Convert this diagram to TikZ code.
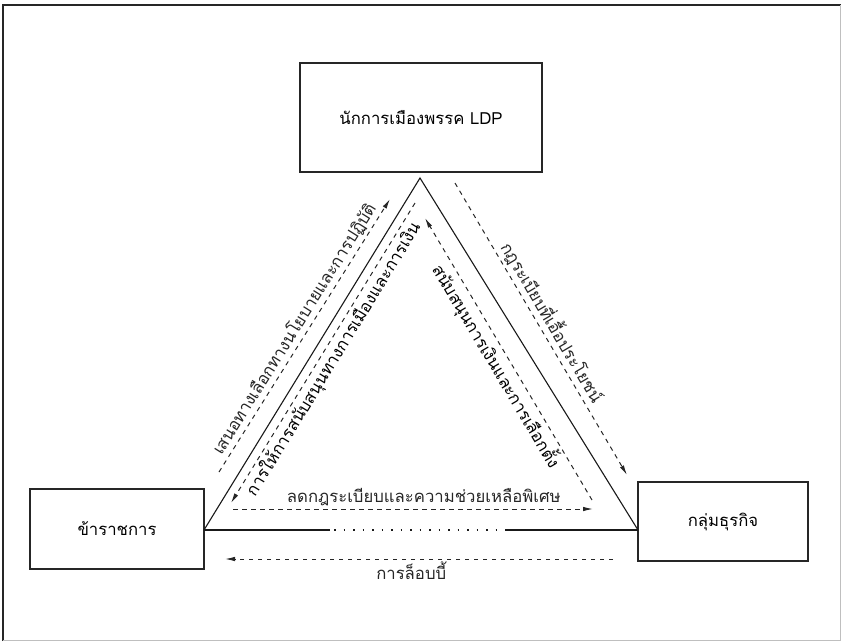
\documentclass[tikz,border=0pt]{standalone}
\usepackage{fontspec}
\newfontfamily\thaifont[Script=Thai]{Loma}
\usetikzlibrary{arrows.meta}
\begin{document}
\begin{tikzpicture}[x=1pt,y=-1pt,
  tfont/.style={font=\thaifont\fontsize{16.7}{19.5}\selectfont},
  box/.style={draw=black!85, line width=1.3pt, inner sep=0pt, tfont},
  lbl/.style={tfont, inner sep=2.5pt},
  side/.style={line width=1.1pt, black!90},
  flow/.style={line width=1pt, black!85, dash pattern=on 4.5pt off 4.5pt, -{Latex[length=10pt,width=4.5pt]}}]
\useasboundingbox (0,0) rectangle (841,641);
% frame
\draw[line width=2pt, black!85] (3,641) -- (3,5) -- (841,5);
\draw[line width=0.8pt, black!25] (840,5) -- (840,640) -- (3,640);
% boxes
\node[box, minimum width=242pt, minimum height=109pt] (ldp) at (421,117.5) {นักการเมืองพรรค LDP};
\node[box, minimum width=174pt, minimum height=80pt] (bur) at (117,529) {ข้าราชการ};
\node[box, minimum width=170pt, minimum height=79pt] (biz) at (723,521.5) {กลุ่มธุรกิจ};
% triangle
\coordinate (A) at (420,178);
\coordinate (L) at (204,530);
\coordinate (R) at (638,530);
\coordinate (b1) at (330,530);
\coordinate (b2) at (505,530);
\coordinate (c1) at (334,530);
\coordinate (c2) at (502,530);
\draw[side] (L) -- (A) -- (R);
\draw[side] (L) -- (b1);
\draw[side] (b2) -- (R);
\draw[side, dash pattern=on 1.5pt off 8pt] (c1) -- (c2);
% flow endpoints
\coordinate (o1s) at (219,472);
\coordinate (o1e) at (390,199);
\coordinate (i1s) at (415,203);
\coordinate (i1e) at (231,503);
\coordinate (i2s) at (592,500);
\coordinate (i2e) at (425,218);
\coordinate (o2s) at (455,183);
\coordinate (o2e) at (627,475);
\coordinate (h1s) at (233,509);
\coordinate (h1e) at (593,509);
\coordinate (h2s) at (613,559);
\coordinate (h2e) at (225,559);
% flows
\draw[flow] (o1s) -- node[lbl, sloped, above] (t1) {เสนอทางเลือกทางนโยบายและการปฏิบัติ} (o1e);
\draw[flow] (i1s) -- (i1e);
\path (i1e) -- node[lbl, sloped, below] (t2) {การให้การสนับสนุนทางการเมืองและการเงิน} (i1s);
\draw[flow] (i2s) -- (i2e);
\path (i2e) -- node[lbl, sloped, below] (t3) {สนับสนุนการเงินและการเลือกตั้ง} (i2s);
\draw[flow] (o2s) -- node[lbl, sloped, above] (t4) {กฎระเบียบที่เอื้อประโยชน์} (o2e);
\draw[flow] (h1s) -- node[lbl, above, pos=0.53] (t5) {ลดกฎระเบียบและความช่วยเหลือพิเศษ} (h1e);
\draw[flow] (h2s) -- node[lbl, below, pos=0.52] (t6) {การล็อบบี้} (h2e);
\end{tikzpicture}
\end{document}
